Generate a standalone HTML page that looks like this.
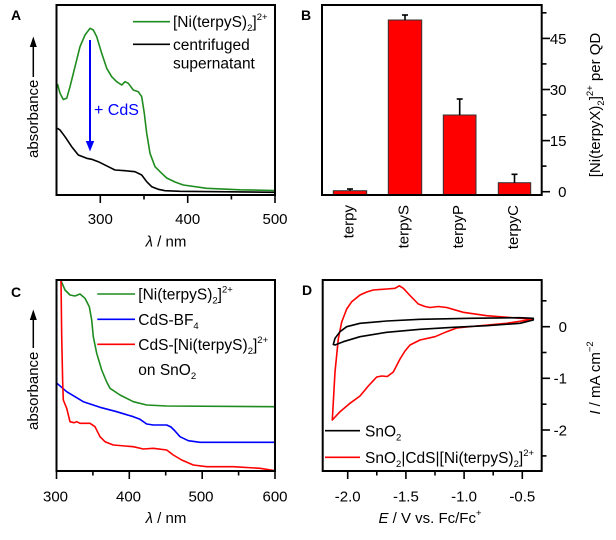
<!DOCTYPE html>
<html><head><meta charset="utf-8"><style>
html,body{margin:0;padding:0;background:#fff}
svg{display:block}
text{font-family:"Liberation Sans",Arial,sans-serif;fill:#000}
</style></head><body>
<svg width="616" height="540" viewBox="0 0 616 540" xmlns="http://www.w3.org/2000/svg">
<rect width="616" height="540" fill="#fff"/>

<!-- ============ Panel A ============ -->
<text x="11" y="20" font-size="14" font-weight="bold">A</text>
<!-- curves -->
<path fill="none" stroke="#1f8c1f" stroke-width="1.6" stroke-linejoin="round" d="M57.5,84 L60,93.3 L63.3,99.5 L66.7,98.3 L70,86.7 L75,66.7 L80,46.7 L85,35 L90,28.3 L93.3,30 L96.7,36.7 L101.7,53.3 L106.7,68.3 L111.7,76.7 L116.7,81.7 L121.7,85 L125,81.7 L128.3,83.3 L133.3,90 L138.3,91.7 L141.7,96.7 L144.3,113.3 L146.7,133.3 L150,153.3 L155,166.7 L161.7,173.3 L166.7,178 L175,182 L183.3,185 L206.7,188.3 L240,189.8 L274,190.5"/>
<path fill="none" stroke="#000" stroke-width="1.6" stroke-linejoin="round" d="M57.5,128.3 L60,130 L65,136.7 L71.7,146.7 L78.3,155 L86.7,158.3 L91.7,159.3 L98.3,161.7 L108.3,166.7 L115,170 L125,170.7 L135,171.7 L141.7,175 L146.7,181.7 L151.7,186.7 L158.3,189.3 L165,190.7 L180,191.3 L274,192.3"/>
<!-- arrow -->
<line x1="90" y1="40" x2="90" y2="143" stroke="#0000ff" stroke-width="2"/>
<polygon points="85.8,141 94.2,141 90,151.5" fill="#0000ff"/>
<text x="94" y="115" font-size="16" fill="#0000ff" style="fill:#0000ff">+ CdS</text>
<!-- legend -->
<line x1="133" y1="21.7" x2="170" y2="21.7" stroke="#1f8c1f" stroke-width="1.6"/>
<text x="173" y="27" font-size="15.5">[Ni(terpyS)<tspan font-size="9.5" dy="4">2</tspan><tspan dy="-4">]</tspan><tspan font-size="9.5" dy="-7">2+</tspan></text>
<line x1="133" y1="44.3" x2="170" y2="44.3" stroke="#000" stroke-width="1.6"/>
<text x="173" y="50" font-size="15.5">centrifuged</text>
<text x="173" y="68.5" font-size="15.5">supernatant</text>
<!-- box -->
<rect x="56.5" y="5" width="218.5" height="190" fill="none" stroke="#000" stroke-width="2"/>
<!-- ticks -->
<g stroke="#000" stroke-width="1.6">
<line x1="100.3" y1="195" x2="100.3" y2="203"/>
<line x1="187.7" y1="195" x2="187.7" y2="203"/>
<line x1="275" y1="195" x2="275" y2="203"/>
<line x1="144" y1="195" x2="144" y2="199.5"/>
<line x1="231.4" y1="195" x2="231.4" y2="199.5"/>
</g>
<g font-size="15" text-anchor="middle">
<text x="100.3" y="224">300</text>
<text x="187.7" y="224">400</text>
<text x="275" y="224">500</text>
</g>
<text x="166" y="246.5" font-size="15" text-anchor="middle"><tspan font-style="italic">λ</tspan> / nm</text>
<!-- y label -->
<text transform="translate(38,158) rotate(-90)" font-size="15">absorbance</text>
<line x1="33.3" y1="77" x2="33.3" y2="46" stroke="#000" stroke-width="1.5"/>
<polygon points="29.8,47 36.8,47 33.3,36.5" fill="#000"/>

<!-- ============ Panel B ============ -->
<text x="301" y="20" font-size="14" font-weight="bold">B</text>
<g fill="#ff0000" stroke="#333" stroke-width="1">
<rect x="333.3" y="190.7" width="33.4" height="4.3"/>
<rect x="388.3" y="20" width="33.4" height="175"/>
<rect x="443.3" y="115" width="32.7" height="80"/>
<rect x="498.3" y="182.7" width="32.4" height="12.3"/>
</g>
<g stroke="#000" stroke-width="1.6">
<line x1="350" y1="190.7" x2="350" y2="189"/><line x1="347" y1="189" x2="353" y2="189"/>
<line x1="405" y1="20" x2="405" y2="15"/><line x1="402" y1="15" x2="408" y2="15"/>
<line x1="459.7" y1="115" x2="459.7" y2="99"/><line x1="456.7" y1="99" x2="462.7" y2="99"/>
<line x1="514.5" y1="182.7" x2="514.5" y2="174.3"/><line x1="511.5" y1="174.3" x2="517.5" y2="174.3"/>
</g>
<rect x="322" y="5" width="219.7" height="190" fill="none" stroke="#000" stroke-width="2"/>
<g stroke="#000" stroke-width="1.6">
<line x1="541.7" y1="191.7" x2="550" y2="191.7"/>
<line x1="541.7" y1="140.6" x2="550" y2="140.6"/>
<line x1="541.7" y1="89.5" x2="550" y2="89.5"/>
<line x1="541.7" y1="38.4" x2="550" y2="38.4"/>
<line x1="541.7" y1="166.1" x2="546.5" y2="166.1"/>
<line x1="541.7" y1="115" x2="546.5" y2="115"/>
<line x1="541.7" y1="63.9" x2="546.5" y2="63.9"/>
<line x1="541.7" y1="12.8" x2="546.5" y2="12.8"/>
</g>
<g font-size="15" text-anchor="end">
<text x="566.5" y="197">0</text>
<text x="566.5" y="146">15</text>
<text x="566.5" y="95">30</text>
<text x="566.5" y="43.8">45</text>
</g>
<text transform="translate(600,105) rotate(-90)" font-size="15" text-anchor="middle">[Ni(terpyX)<tspan font-size="9.5" dy="4">2</tspan><tspan dy="-4">]</tspan><tspan font-size="9.5" dy="-7">2+</tspan><tspan dy="7"> per QD</tspan></text>
<g font-size="15" text-anchor="end">
<text transform="translate(353.5,205) rotate(-90)">terpy</text>
<text transform="translate(408.5,205) rotate(-90)">terpyS</text>
<text transform="translate(463,205) rotate(-90)">terpyP</text>
<text transform="translate(518,205) rotate(-90)">terpyC</text>
</g>

<!-- ============ Panel C ============ -->
<text x="11" y="297" font-size="14" font-weight="bold">C</text>
<path fill="none" stroke="#1f8c1f" stroke-width="1.6" stroke-linejoin="round" d="M60.7,280 L65,290 L70,295 L75,296 L80,294 L85,298.3 L89.3,306.7 L91.7,320 L93.3,336.7 L96.7,353.3 L101.7,370 L106.7,382 L110,388.3 L120,395 L133.3,401.7 L146.7,405 L166.7,406 L274,406.7"/>
<path fill="none" stroke="#0000ff" stroke-width="1.6" stroke-linejoin="round" d="M57,383.3 L66.7,391.7 L83.3,401.7 L100,407.3 L116.7,411.7 L133.3,416.7 L140,419.3 L146.7,424 L153.3,425 L166.7,425 L171,427 L175,431 L180,436.7 L188.3,440.7 L200,442.3 L274,442.3"/>
<path fill="none" stroke="#ff0000" stroke-width="1.6" stroke-linejoin="round" d="M61,280 L61.7,336.7 L62.7,383 L63.3,400 L66.7,408.3 L70,421.7 L74,422.7 L76.7,421.7 L80,423.3 L90,423.3 L95,426.7 L100,436.7 L105,441.7 L113.3,445 L133.3,446.7 L143.3,449 L153.3,448.3 L166.7,450 L173.3,455 L181.7,460 L193.3,465 L206.7,466.7 L233.3,466.7 L260,468.3 L274,470.5"/>
<!-- legend -->
<line x1="97.3" y1="294" x2="135" y2="294" stroke="#1f8c1f" stroke-width="1.6"/>
<text x="138.3" y="299.5" font-size="15.5">[Ni(terpyS)<tspan font-size="9.5" dy="4">2</tspan><tspan dy="-4">]</tspan><tspan font-size="9.5" dy="-7">2+</tspan></text>
<line x1="97.3" y1="319.3" x2="135" y2="319.3" stroke="#0000ff" stroke-width="1.6"/>
<text x="138.3" y="325" font-size="15.5">CdS-BF<tspan font-size="9.5" dy="4">4</tspan></text>
<line x1="97.3" y1="344.3" x2="135" y2="344.3" stroke="#ff0000" stroke-width="1.6"/>
<text x="138.3" y="350" font-size="15.5">CdS-[Ni(terpyS)<tspan font-size="9.5" dy="4">2</tspan><tspan dy="-4">]</tspan><tspan font-size="9.5" dy="-7">2+</tspan></text>
<text x="138.3" y="375" font-size="15.5">on SnO<tspan font-size="9.5" dy="4">2</tspan></text>
<rect x="56.5" y="280" width="218.5" height="191" fill="none" stroke="#000" stroke-width="2"/>
<g stroke="#000" stroke-width="1.6">
<line x1="56.5" y1="471" x2="56.5" y2="479"/>
<line x1="129.3" y1="471" x2="129.3" y2="479"/>
<line x1="202.2" y1="471" x2="202.2" y2="479"/>
<line x1="275" y1="471" x2="275" y2="479"/>
<line x1="92.9" y1="471" x2="92.9" y2="475.5"/>
<line x1="165.7" y1="471" x2="165.7" y2="475.5"/>
<line x1="238.6" y1="471" x2="238.6" y2="475.5"/>
</g>
<g font-size="15" text-anchor="middle">
<text x="55.5" y="501.7">300</text>
<text x="128.5" y="501.7">400</text>
<text x="201" y="501.7">500</text>
<text x="275" y="501.7">600</text>
</g>
<text x="166" y="523" font-size="15" text-anchor="middle"><tspan font-style="italic">λ</tspan> / nm</text>
<text transform="translate(38,430) rotate(-90)" font-size="15">absorbance</text>
<line x1="33.3" y1="348" x2="33.3" y2="319" stroke="#000" stroke-width="1.5"/>
<polygon points="29.8,320 36.8,320 33.3,309.5" fill="#000"/>

<!-- ============ Panel D ============ -->
<text x="302" y="295" font-size="14" font-weight="bold">D</text>
<path fill="none" stroke="#ff0000" stroke-width="1.6" stroke-linejoin="round" d="M533.3,319.3 L506.7,323.3 L476.7,326 L456.7,328 L446.7,331.7 L435,336.7 L420,340 L410,345 L405,351 L400,359 L393.3,372 L387.3,376.5 L381.7,376 L376.7,377 L368.3,386 L360,396 L350,403.3 L340,411.7 L332.3,420 L335,372 L338.3,339 L341.7,322 L346.7,309 L351.7,301.7 L360,295 L366.7,292 L373.3,290 L386.7,289 L395,288.3 L399.3,285.8 L403.3,288.3 L410,295.5 L418.3,304 L425,306.5 L430,307.5 L438.3,306.5 L446.7,307.5 L463.3,312.3 L486.7,315.7 L510,317.5 L533.3,319.3"/>
<path fill="none" stroke="#000" stroke-width="1.6" stroke-linejoin="round" d="M533.3,318.3 L520,317.7 L470,318.3 L420,319.3 L386.7,321 L360,323.3 L346.7,326.7 L340,331.7 L335,338.3 L333.3,344.5 L335,345 L343.3,341.7 L360,336.7 L386.7,332.3 L420,329.3 L453.3,327.3 L486.7,325.7 L520,323.3 L533.3,320 Z"/>
<!-- legend -->
<line x1="325" y1="430.7" x2="360" y2="430.7" stroke="#000" stroke-width="1.6"/>
<text x="365" y="436.5" font-size="15.5">SnO<tspan font-size="9.5" dy="4">2</tspan></text>
<line x1="325" y1="457.3" x2="360" y2="457.3" stroke="#ff0000" stroke-width="1.6"/>
<text x="365" y="463" font-size="15.5">SnO<tspan font-size="9.5" dy="4">2</tspan><tspan dy="-4">|CdS|[Ni(terpyS)</tspan><tspan font-size="9.5" dy="4">2</tspan><tspan dy="-4">]</tspan><tspan font-size="9.5" dy="-7">2+</tspan></text>
<rect x="322.7" y="280" width="219" height="191" fill="none" stroke="#000" stroke-width="2"/>
<g stroke="#000" stroke-width="1.6">
<line x1="347.7" y1="471" x2="347.7" y2="479"/>
<line x1="405.9" y1="471" x2="405.9" y2="479"/>
<line x1="464.1" y1="471" x2="464.1" y2="479"/>
<line x1="522.3" y1="471" x2="522.3" y2="479"/>
<line x1="376.8" y1="471" x2="376.8" y2="475.5"/>
<line x1="435" y1="471" x2="435" y2="475.5"/>
<line x1="493.2" y1="471" x2="493.2" y2="475.5"/>
<line x1="541.7" y1="326.7" x2="550" y2="326.7"/>
<line x1="541.7" y1="378.3" x2="550" y2="378.3"/>
<line x1="541.7" y1="430" x2="550" y2="430"/>
<line x1="541.7" y1="300.8" x2="546.5" y2="300.8"/>
<line x1="541.7" y1="352.5" x2="546.5" y2="352.5"/>
<line x1="541.7" y1="404.2" x2="546.5" y2="404.2"/>
<line x1="541.7" y1="455.9" x2="546.5" y2="455.9"/>
</g>
<g font-size="15" text-anchor="middle">
<text x="347.7" y="501.7">-2.0</text>
<text x="405.9" y="501.7">-1.5</text>
<text x="464.1" y="501.7">-1.0</text>
<text x="522.3" y="501.7">-0.5</text>
</g>
<g font-size="15" text-anchor="end">
<text x="567" y="332">0</text>
<text x="567" y="383.6">-1</text>
<text x="567" y="435.3">-2</text>
</g>
<text x="430" y="523" font-size="15" text-anchor="middle"><tspan font-style="italic">E</tspan> / V vs. Fc/Fc<tspan font-size="9.5" dy="-7">+</tspan></text>
<text transform="translate(600,378) rotate(-90)" font-size="15" text-anchor="middle"><tspan font-style="italic">I</tspan> / mA cm<tspan font-size="9.5" dy="-7">−2</tspan></text>
</svg>
</body></html>
